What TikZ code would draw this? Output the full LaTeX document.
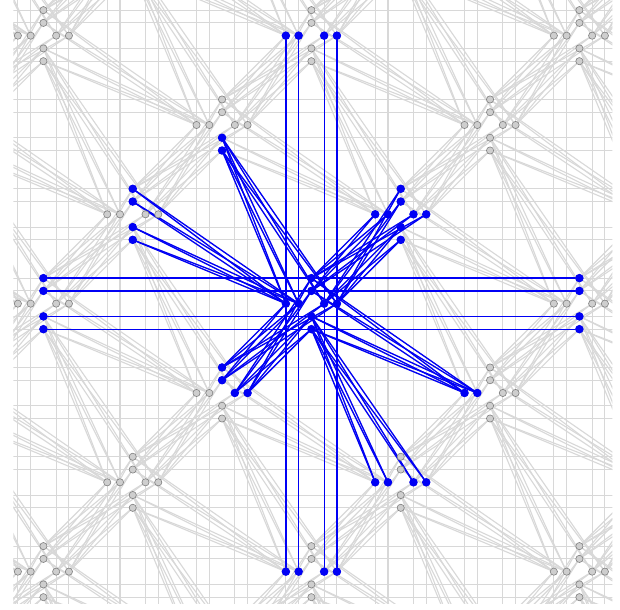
\documentclass[tikz,border=0pt]{standalone}
\usepackage{xcolor}
\usepackage{tikz}
\definecolor{edgegray}{RGB}{216,216,216}
\definecolor{dotgray}{RGB}{206,206,206}
\definecolor{dotrim}{RGB}{130,130,130}
\definecolor{hiblue}{RGB}{0,0,245}
\tikzset{
  gredge/.style={draw=edgegray,line width=.36pt},
  bledge/.style={line width=.42pt},
  grdot/.style={circle,draw=dotrim,fill=dotgray,line width=.2pt,
    inner sep=0pt,minimum size=2.3pt},
  bldot/.style={circle,fill=hiblue,inner sep=0pt,minimum size=2.7pt}
}
% links of one cell to a shifted cell: #1 source, #2 target, #3 style
\newcommand\linkVV[3]{\foreach \nd in {T2,T1,B1,B2} \draw[#3] (#1\nd) -- (#2\nd);}
\newcommand\linkHH[3]{\foreach \nd in {L2,L1,R1,R2} \draw[#3] (#1\nd) -- (#2\nd);}
\newcommand\linkUR[3]{%
  \foreach \src in {T2,T1} \foreach \tgt in {L2,L1,R1,R2} \draw[#3] (#1\src) -- (#2\tgt);
  \foreach \src in {R1,R2} \foreach \tgt in {T2,T1,B1,B2} \draw[#3] (#1\src) -- (#2\tgt);}
\newcommand\linkDS[3]{%
  \foreach \src in {B1,B2} \foreach \tgt in {L2,L1,R1,R2} \draw[#3] (#1\src) -- (#2\tgt);}
\newcommand\linkDF[3]{%
  \foreach \src in {T2,T1,B1,B2} \foreach \tgt in {L2,L1} \draw[#3] (#1\src) -- (#2\tgt);}
\newcommand\bluedots[2]{\foreach \nd in {#2} \node[bldot] (b#1\nd) at (#1\nd) {};}

\begin{document}
\begin{tikzpicture}[x=1cm,y=1cm]
\useasboundingbox (-0.4859,-6.4183) rectangle (6.4547,0.3991);
\clip (-0.336,-6.358) rectangle (6.37,0.3991);
% cell anchors
\foreach \i in {-3,...,9}{
  \foreach \j in {-4,...,10}{
    \pgfmathtruncatemacro\rem{mod(\i+\j+30,3)}
    \ifnum\rem=0
      \foreach \nd/\dx/\dy in {T2/0/2,T1/0/1,B1/0/-1,B2/0/-2,L2/-2/0,L1/-1/0,R1/1/0,R2/2/0}
        \coordinate (p\i Y\j\nd) at ({\i+(\dx)/7},{-(\j)+(\dy)/7});
    \fi
  }
}
% background links
\foreach \i in {-3,...,6}{
  \foreach \j in {-3,...,7}{
    \pgfmathtruncatemacro\rem{mod(\i+\j+30,3)}
    \ifnum\rem=0
      \pgfmathtruncatemacro\ia{\i+1}
      \pgfmathtruncatemacro\ib{\i+2}
      \pgfmathtruncatemacro\ic{\i+3}
      \pgfmathtruncatemacro\ja{\j-1}
      \pgfmathtruncatemacro\jb{\j+1}
      \pgfmathtruncatemacro\jc{\j+2}
      \pgfmathtruncatemacro\jd{\j+3}
      \linkVV{p\i Y\j}{p\ic Y\j}{gredge}
      \linkHH{p\i Y\j}{p\i Y\jd}{gredge}
      \linkUR{p\i Y\j}{p\ia Y\ja}{gredge}
      \linkDS{p\i Y\j}{p\ia Y\jc}{gredge}
      \linkDF{p\i Y\j}{p\ib Y\jb}{gredge}
    \fi
  }
}
% links of the middle cell
\begin{scope}[color=hiblue]
\linkVV{p3Y3}{p6Y3}{bledge} \linkVV{p0Y3}{p3Y3}{bledge}
\linkHH{p3Y3}{p3Y6}{bledge} \linkHH{p3Y0}{p3Y3}{bledge}
\linkUR{p3Y3}{p4Y2}{bledge} \linkUR{p2Y4}{p3Y3}{bledge}
\linkDS{p3Y3}{p4Y5}{bledge} \linkDS{p2Y1}{p3Y3}{bledge}
\linkDF{p3Y3}{p5Y4}{bledge} \linkDF{p1Y2}{p3Y3}{bledge}
\end{scope}
% dots
\foreach \i in {-1,...,7}{
  \foreach \j in {-1,...,7}{
    \pgfmathtruncatemacro\rem{mod(\i+\j+30,3)}
    \ifnum\rem=0
      \foreach \nd in {T2,T1,B1,B2,L2,L1,R1,R2}
        \node[grdot] (g\i Y\j\nd) at (p\i Y\j\nd) {};
    \fi
  }
}
\bluedots{p3Y3}{T2,T1,B1,B2,L2,L1,R1,R2}
\bluedots{p4Y2}{T2,T1,B1,B2,L2,L1,R1,R2}
\bluedots{p2Y4}{T2,T1,R1,R2}
\bluedots{p4Y5}{L2,L1,R1,R2}
\bluedots{p2Y1}{B1,B2}
\bluedots{p5Y4}{L2,L1}
\bluedots{p1Y2}{T2,T1,B1,B2}
\bluedots{p0Y3}{T2,T1,B1,B2}
\bluedots{p6Y3}{T2,T1,B1,B2}
\bluedots{p3Y0}{L2,L1,R1,R2}
\bluedots{p3Y6}{L2,L1,R1,R2}
\end{tikzpicture}
\end{document}
